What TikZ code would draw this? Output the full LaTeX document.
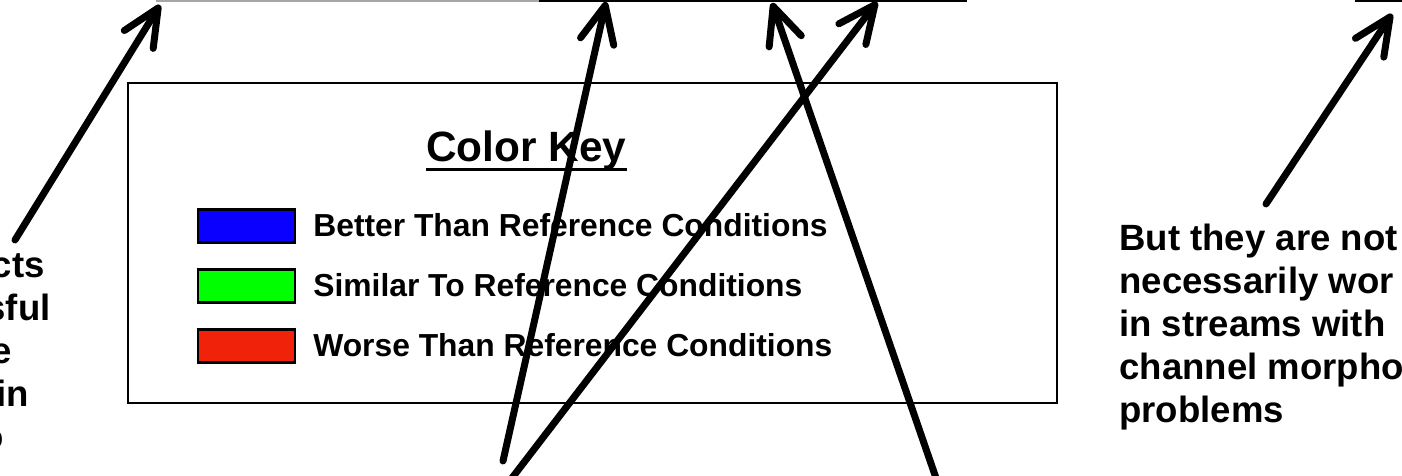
\documentclass[tikz,border=0pt]{standalone}
\usepackage{fontspec}
\setmainfont{Liberation Sans}
\usetikzlibrary{arrows.meta}
\definecolor{keyBlue}{HTML}{0A00FF}
\definecolor{keyGreen}{HTML}{00FF00}
\definecolor{keyRed}{HTML}{F0230A}
\tikzset{
  pointer/.style={line width=1.4mm, line cap=round,
    -{Straight Barb[length=7.4mm, width=6.8mm, round]}},
  note/.style={font=\fontsize{20.8pt}{24.5pt}\selectfont\bfseries,
    inner sep=0pt, align=left},
  keytext/.style={font=\fontsize{18.1pt}{21pt}\selectfont\bfseries, inner sep=0pt},
  swatch/.style={draw=black, line width=0.45mm, fill=#1, inner sep=0pt,
    minimum width=19.4mm, minimum height=6.6mm}
}
\begin{document}
\begin{tikzpicture}[x=0.2mm,y=-0.2mm]
  \useasboundingbox (0,0) rectangle (1402,476);
  % edges of the boxes above, cut by the page
  \draw[gray!70, line width=0.3mm] (156,1) -- (539,1);
  \draw[line width=0.6mm] (539,1) -- (967,1);
  \draw[line width=0.6mm] (1355,1) -- (1402,1);

  % colour key
  \node[draw, line width=0.35mm, inner sep=0pt, minimum width=185.8mm,
    minimum height=64mm] (keybox) at (592.5,243) {};
  \node[font=\fontsize{24.1pt}{28pt}\selectfont\bfseries, inner sep=0pt,
    anchor=base west] (keytitle) at (426,162) {Color Key};
  \draw[line width=0.6mm] ([yshift=-1.6mm]keytitle.base west) -- ([yshift=-1.6mm]keytitle.base east);
  \foreach \c/\y/\txt in {keyBlue/226/Better Than Reference Conditions,
      keyGreen/286/Similar To Reference Conditions,
      keyRed/346/Worse Than Reference Conditions}{
    \node[swatch=\c] (sw\c) at (246.5,\y) {};
    \node[keytext, anchor=base west] (lb\c) at (313,\y+11) {\txt};
  }

  % side notes
  \foreach \txt/\xe/\yb [count=\i] in {cts/45/278, sful/51/321, e/12/364, in/29/407, o/4/450}
    \node[note, anchor=base east] (left\i) at (\xe,\yb) {\txt};
  \node[note, anchor=base west] (rightnote) at (1119,423)
    {But they are not\\necessarily wor\\in streams with\\channel morpho\\problems};

  % arrows
  \coordinate (tailA) at (15,240);   \coordinate (tipA) at (160,5);
  \coordinate (tailB) at (503,461);  \coordinate (tipB) at (606,2);
  \coordinate (tailC) at (512,478);  \coordinate (tipC) at (877,2);
  \coordinate (tailD) at (936,478);  \coordinate (tipD) at (772,3);
  \coordinate (tailE) at (1266,204); \coordinate (tipE) at (1392,14);
  \foreach \n in {A,B,C,D,E}
    \draw[pointer] (tail\n) -- (tip\n);
\end{tikzpicture}
\end{document}
